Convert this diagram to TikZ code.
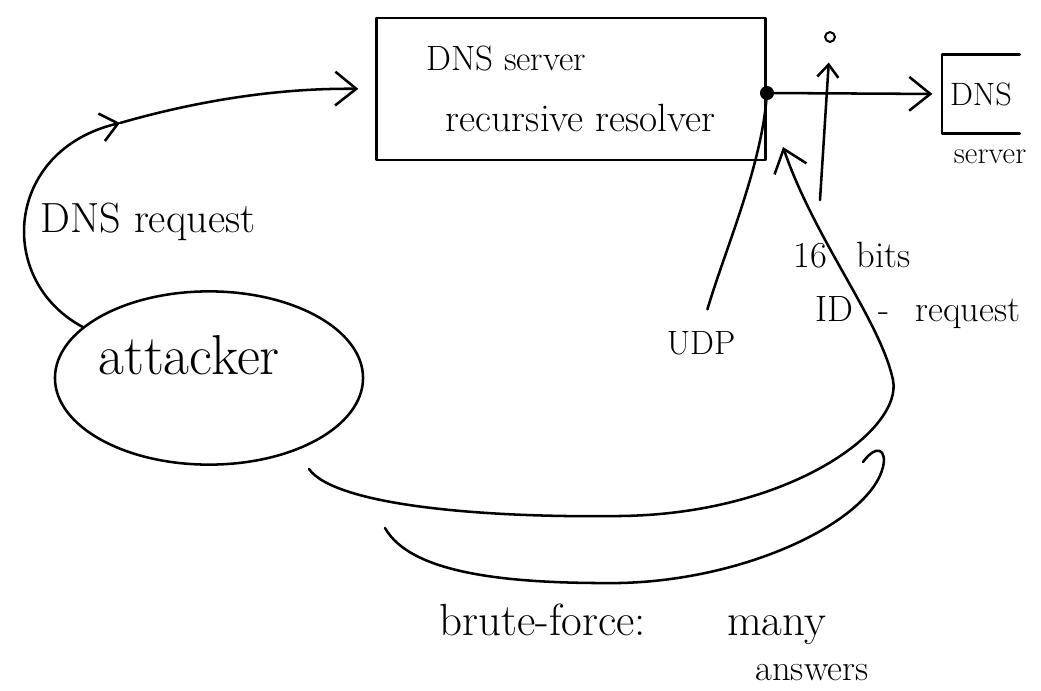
\documentclass[tikz,border=0pt]{standalone}
\usetikzlibrary{shapes.geometric,arrows.meta}
\begin{document}
\begin{tikzpicture}[x=0.025cm,y=-0.025cm]
            \tikzstyle{every node}+=[inner sep=0pt]
            \tikzstyle{hand}=[line width=1.8pt,line cap=round,line join=round]
            \tikzstyle{bigbarb}=[-{Straight Barb[length=15pt,width=24pt]}]
            \tikzstyle{midbarb}=[-{Straight Barb[length=12pt,width=20pt]}]
            \tikzstyle{smallbarb}=[-{Straight Barb[length=9pt,width=15pt]}]
            \useasboundingbox (0,0) rectangle (1041,691);
            % resolver and its port
            \node [draw,hand,minimum width=9.725cm,minimum height=3.55cm,align=left,font=\fontsize{28}{43}\selectfont] (resolver) at (571,89) {{\fontsize{25}{43}\selectfont DNS server}\\\hspace*{14pt}recursive resolver};
            \node [circle,fill,minimum size=10pt] (port) at (767,93) {};
            % authoritative server
            \node [minimum width=1.925cm,minimum height=1.95cm,font=\fontsize{23}{27}\selectfont] (dns2) at (981,94) {DNS};
            \draw [hand] (dns2.north east) -- (dns2.north west) -- (dns2.south west) -- (dns2.south east);
            \node [font=\fontsize{22}{26}\selectfont] (dns2lbl) at (990,157) {server};
            \draw [hand,bigbarb,shorten >=7pt] (port) -- (dns2.west);
            % attacker
            \node [ellipse,draw,hand,minimum width=7.7cm,minimum height=4.33cm] (attacker) at (209,378) {};
            \node [font=\fontsize{40}{46}\selectfont] (attlbl) at (189,355) {attacker};
            \coordinate (reqmid) at (120,123);
            \draw [hand,midbarb] (attacker.158) .. controls (-5,280) and (5,150) .. (reqmid);
            \draw [hand,bigbarb,shorten >=12pt] (reqmid) .. controls (200,100) and (280,88) .. (resolver.west);
            \node [font=\fontsize{30}{34}\selectfont] (reqlbl) at (148,222) {DNS request};
            % probe going up
            \coordinate (probefoot) at (820,200);
            \node [circle,draw,line width=1.4pt,minimum size=7pt] (probe) at (830,37) {};
            \draw [hand,smallbarb,shorten >=14pt] (probefoot) -- (probe.south);
            % udp
            \node [font=\fontsize{24}{28}\selectfont] (udp) at (701,343) {UDP};
            \draw [hand,shorten <=16pt] (udp.north) .. controls (725,250) and (760,170) .. (port);
            % spoofed answers
            \coordinate (hitA) at (783,147);
            \draw [hand] (attacker.-40) [shorten <=16pt] .. controls (335,505) and (480,518) .. (620,516)
                .. controls (790,514) and (903,430) .. (893,380);
            \draw [hand,bigbarb] (893,380) .. controls (880,320) and (815,240) .. (hitA);
            \coordinate (startB) at (385,528);
            \coordinate (endB) at (863,462);
            \draw [hand] (startB) .. controls (410,572) and (500,584) .. (620,583)
                .. controls (750,580) and (870,520) .. (883,467)
                .. controls (887,450) and (877,443) .. (endB);
            \node [font=\fontsize{26}{30}\selectfont] (bits) at (852,255) {16\hspace{0.8em}bits};
            \node [font=\fontsize{26}{30}\selectfont] (idreq) at (918,313) {ID\hspace{0.7em}-\hspace{0.7em}request};
            \node [font=\fontsize{32}{36}\selectfont] (brute) at (633,624) {brute-force:\hspace{1.8em}many};
            \node [font=\fontsize{26}{30}\selectfont] (answers) at (812,673) {answers};
        \end{tikzpicture}
\end{document}
